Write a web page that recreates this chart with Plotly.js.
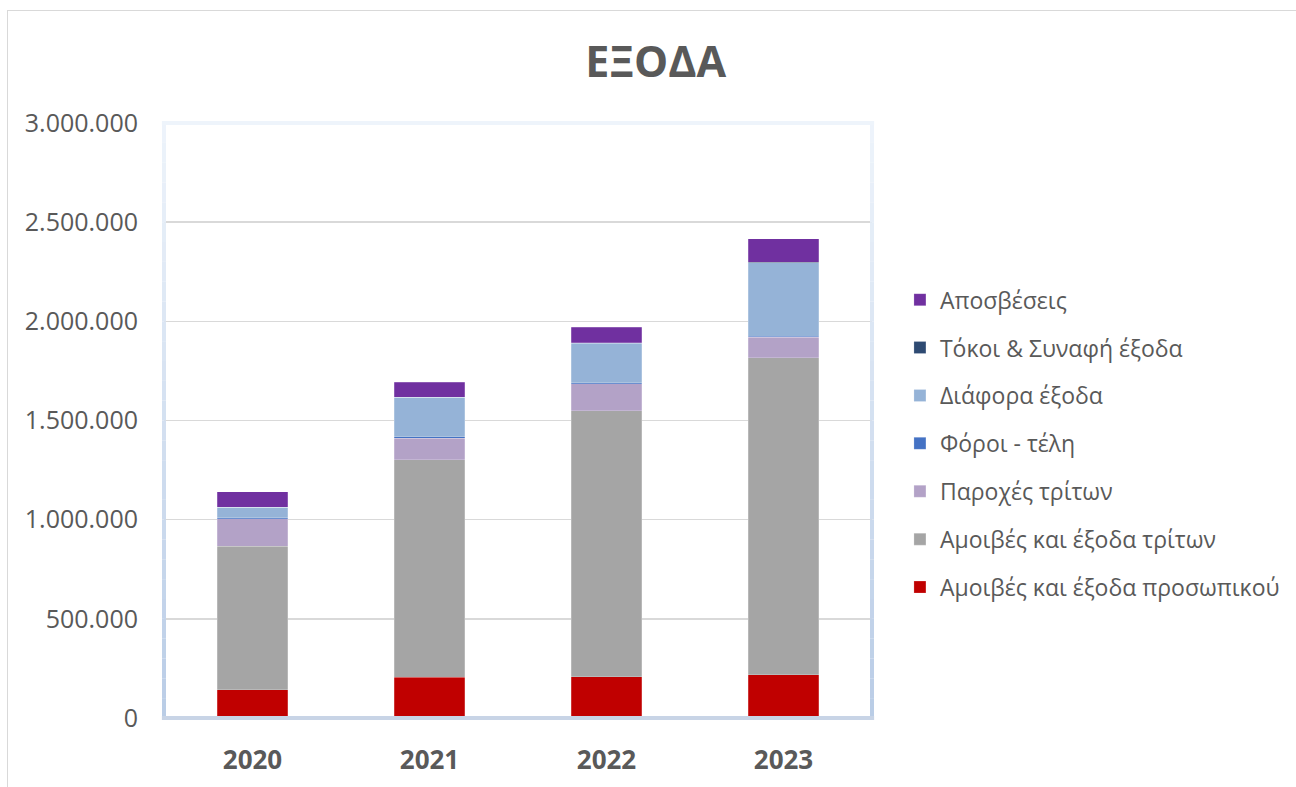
<!DOCTYPE html>
<html>
<head>
<meta charset="utf-8">
<script src="https://cdn.plot.ly/plotly-3.0.1.min.js"></script>
<style>
  html, body { margin: 0; padding: 0; background: #ffffff; overflow: hidden; }
  #frame { position: absolute; left: 7px; top: 10px; width: 1400px; height: 900px; border: 1px solid #d9d9d9; box-sizing: border-box; }
  #chart { position: absolute; left: 0; top: 0; width: 1296px; height: 787px; }
</style>
</head>
<body>
<div id="frame"></div>
<div id="chart"></div>
<script>
// ---- data ----
const years = ["2020", "2021", "2022", "2023"];
const personnel   = [143000, 205000, 207000, 217000];   // Αμοιβές και έξοδα προσωπικού
const thirdFees   = [724000, 1098000, 1343000, 1599000]; // Αμοιβές και έξοδα τρίτων
const thirdSupply = [138000, 108000, 136000, 103000];    // Παροχές τρίτων
const taxes       = [5000, 6000, 5000, 5000];            // Φόροι - τέλη
const misc        = [52000, 199000, 199000, 372000];     // Διάφορα έξοδα
const interest    = [1500, 1500, 1500, 1500];            // Τόκοι & Συναφή έξοδα
const depreciation= [78000, 76000, 79000, 118000];       // Αποσβέσεις
const yTicks = [0, 500000, 1000000, 1500000, 2000000, 2500000, 3000000];

const seriesNames = ["Αμοιβές και έξοδα προσωπικού", "Αμοιβές και έξοδα τρίτων", "Παροχές τρίτων",
                     "Φόροι - τέλη", "Διάφορα έξοδα", "Τόκοι & Συναφή έξοδα", "Αποσβέσεις"];
const seriesValues = [personnel, thirdFees, thirdSupply, taxes, misc, interest, depreciation];
const seriesColors = ["#c00000", "#a5a5a5", "#b3a2c7", "#4472c4", "#95b3d7", "#2e4a72", "#7030a0"];

const traces = seriesNames.map((n, i) => ({
  type: "bar",
  name: n,
  x: years,
  y: seriesValues[i],
  legendgroup: "g" + i,
  legendrank: 100 - i,
  marker: { color: seriesColors[i], line: { color: "rgba(255,255,255,0.35)", width: 0.6 } },
  hoverinfo: "x+y+name"
}));

// plot-area border with vertical gradient (style only)
function lerpColor(a, b, t) {
  const pa = [parseInt(a.slice(1,3),16), parseInt(a.slice(3,5),16), parseInt(a.slice(5,7),16)];
  const pb = [parseInt(b.slice(1,3),16), parseInt(b.slice(3,5),16), parseInt(b.slice(5,7),16)];
  return "rgb(" + pa.map((v, k) => Math.round(v + (pb[k] - v) * t)).join(",") + ")";
}
const shapes = [];
const topC = "#eef4fb", botC = "#b9cce6";
const N = 30;
for (let k = 0; k < N; k++) {
  const y0 = 1 - k / N, y1 = 1 - (k + 1) / N;
  const c = lerpColor(topC, botC, (k + 0.5) / N);
  [0, 1].forEach(xp => shapes.push({ type: "line", xref: "paper", yref: "paper",
    x0: xp, x1: xp, y0: y0, y1: y1, line: { color: c, width: 4 }, layer: "above" }));
}
shapes.push({ type: "line", xref: "paper", yref: "paper", x0: -0.003, x1: 1.003, y0: 1, y1: 1,
  line: { color: topC, width: 4 }, layer: "above" });
shapes.push({ type: "line", xref: "paper", yref: "paper", x0: -0.003, x1: 1.003, y0: 0, y1: 0,
  line: { color: "#c8d4e6", width: 4 }, layer: "above" });

const layout = {
  width: 1296, height: 787,
  paper_bgcolor: "rgba(0,0,0,0)",
  plot_bgcolor: "#ffffff",
  separators: ",.",
  barmode: "stack",
  bargap: 0.6,
  margin: { l: 164, r: 423, t: 123, b: 69 },
  font: { family: "Open Sans, sans-serif", color: "#595959" },
  title: { text: "<b>ΕΞΟΔΑ</b>", x: 0.506, xref: "container", xanchor: "center",
           y: 0.921, yref: "container", yanchor: "middle",
           font: { size: 43, family: "Open Sans, sans-serif", color: "#595959" } },
  xaxis: {
    type: "category",
    showgrid: false, showline: false, zeroline: false, ticks: "",
    tickfont: { size: 26, family: "Open Sans, sans-serif", color: "#595959", weight: "bold" },
    ticklabelstandoff: 24
  },
  yaxis: {
    range: [0, 3000000],
    tickvals: yTicks,
    tickformat: ",d",
    showgrid: true, gridcolor: "#d9d9d9", gridwidth: 1.5,
    zeroline: false, showline: false, ticks: "",
    tickfont: { size: 25, family: "Open Sans, sans-serif", color: "#595959" },
    ticklabelstandoff: 25
  },
  legend: {
    x: 1.038, xanchor: "left", y: 0.461, yanchor: "middle",
    traceorder: "grouped",
    tracegroupgap: 15,
    font: { size: 23, family: "Open Sans, sans-serif", color: "#595959" },
    bgcolor: "rgba(0,0,0,0)"
  },
  shapes: shapes,
  showlegend: true
};

Plotly.newPlot("chart", traces, layout, { displayModeBar: false, staticPlot: true });
</script>
</body>
</html>
